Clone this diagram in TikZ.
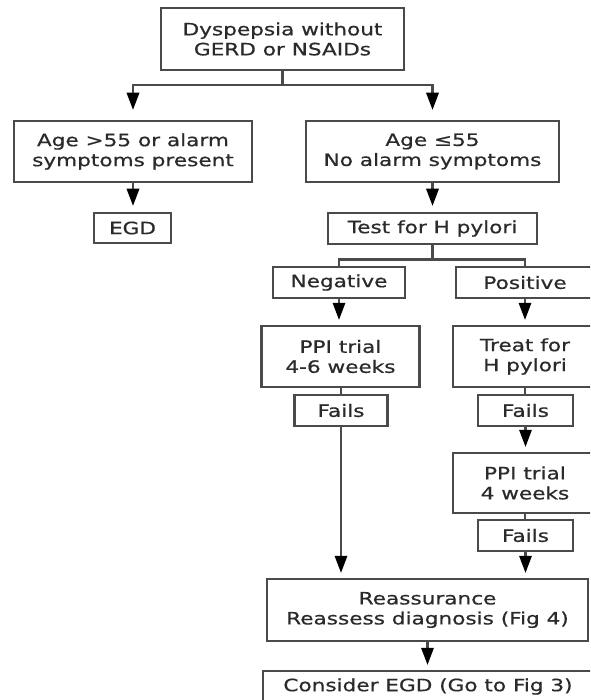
\documentclass[tikz,border=0pt]{standalone}
\usepackage{fontspec}
\setmainfont{DejaVu Sans}[FakeStretch=1.27,FakeBold=0.6]
\usetikzlibrary{arrows.meta}
\definecolor{boxline}{HTML}{4A4A4A}
\definecolor{txt}{HTML}{2A2A2A}
\tikzset{
  box/.style={draw=boxline, line width=2.5pt, fill=white, text=txt, align=center,
    inner sep=0pt, font=\fontsize{17}{20}\selectfont},
  conn/.style={draw=boxline, line width=2.5pt},
  arr/.style={conn, -{Triangle[length=17pt,width=13pt,color=black,line width=0pt]}, shorten >=#1},
  arr/.default=5pt
}
\begin{document}
\begin{tikzpicture}[x=1pt,y=-1pt]
\useasboundingbox (0,0) rectangle (590,700);
\clip (0,0) rectangle (590,700);
\fill[white] (0,0) rectangle (590,700);
% nodes
\node[box, minimum width=243pt, minimum height=62pt] (top) at (282.5,39) {Dyspepsia without\\GERD or NSAIDs};
\node[box, minimum width=238pt, minimum height=61pt] (left) at (133,151.5) {Age >55 or alarm\\symptoms present};
\node[box, minimum width=253pt, minimum height=61pt] (right) at (432.5,151.5) {Age ≤55\\No alarm symptoms};
\node[box, minimum width=77pt, minimum height=30pt] (egd) at (132.5,228) {EGD};
\node[box, minimum width=209pt, minimum height=31pt] (test) at (432.5,228.5) {Test for H pylori};
\node[box, minimum width=132pt, minimum height=31pt] (neg) at (339,282.5) {Negative};
\node[box, minimum width=138pt, minimum height=31pt] (pos) at (525,282.5) {Positive};
\node[box, minimum width=158pt, minimum height=61pt] (ppi) at (340.5,356.5) {PPI trial\\4-6 weeks};
\node[box, minimum width=144pt, minimum height=61pt] (treat) at (525,356.5) {Treat for\\H pylori};
\node[box, minimum width=93pt, minimum height=31pt] (failsl) at (341,410.5) {Fails};
\node[box, minimum width=95pt, minimum height=31pt] (failsr) at (525.5,410.5) {Fails};
\node[box, minimum width=144pt, minimum height=60pt] (ppifour) at (525,483) {PPI trial\\4 weeks};
\node[box, minimum width=95pt, minimum height=31pt] (failsrr) at (525.5,535.5) {Fails};
\node[box, minimum width=321pt, minimum height=62pt] (reas) at (427.5,610) {Reassurance\\Reassess diagnosis (Fig 4)};
\node[box, minimum width=330pt, minimum height=31pt] (cons) at (428,686.5) {Consider EGD (Go to Fig 3)};
% connectors
\draw[arr=10pt] (top.south) -- ++(0,14) -| (left.north);
\draw[arr=10pt] (top.south) -- ++(0,14) -| (right.north);
\draw[arr=6pt] (left.south) -- (left.south |- egd.north);
\draw[arr=6pt] (right.south) -- (right.south |- test.north);
\draw[conn] (test.south) -- ++(0,14) -| (neg.north);
\draw[conn] (test.south) -- ++(0,14) -| (pos.north);
\draw[arr] (neg.south) -- (neg.south |- ppi.north);
\draw[conn] (ppi.south -| failsl.north) -- (failsl.north);
\draw[arr] (failsl.south) -- (failsl.south |- reas.north);
\draw[arr] (pos.south) -- (pos.south |- treat.north);
\draw[conn] (treat.south) -- (treat.south |- failsr.north);
\draw[arr] (failsr.south) -- (failsr.south |- ppifour.north);
\draw[conn] (ppifour.south) -- (ppifour.south |- failsrr.north);
\draw[arr] (failsrr.south) -- (failsrr.south |- reas.north);
\draw[arr] (reas.south) -- (reas.south |- cons.north);
\end{tikzpicture}
\end{document}
